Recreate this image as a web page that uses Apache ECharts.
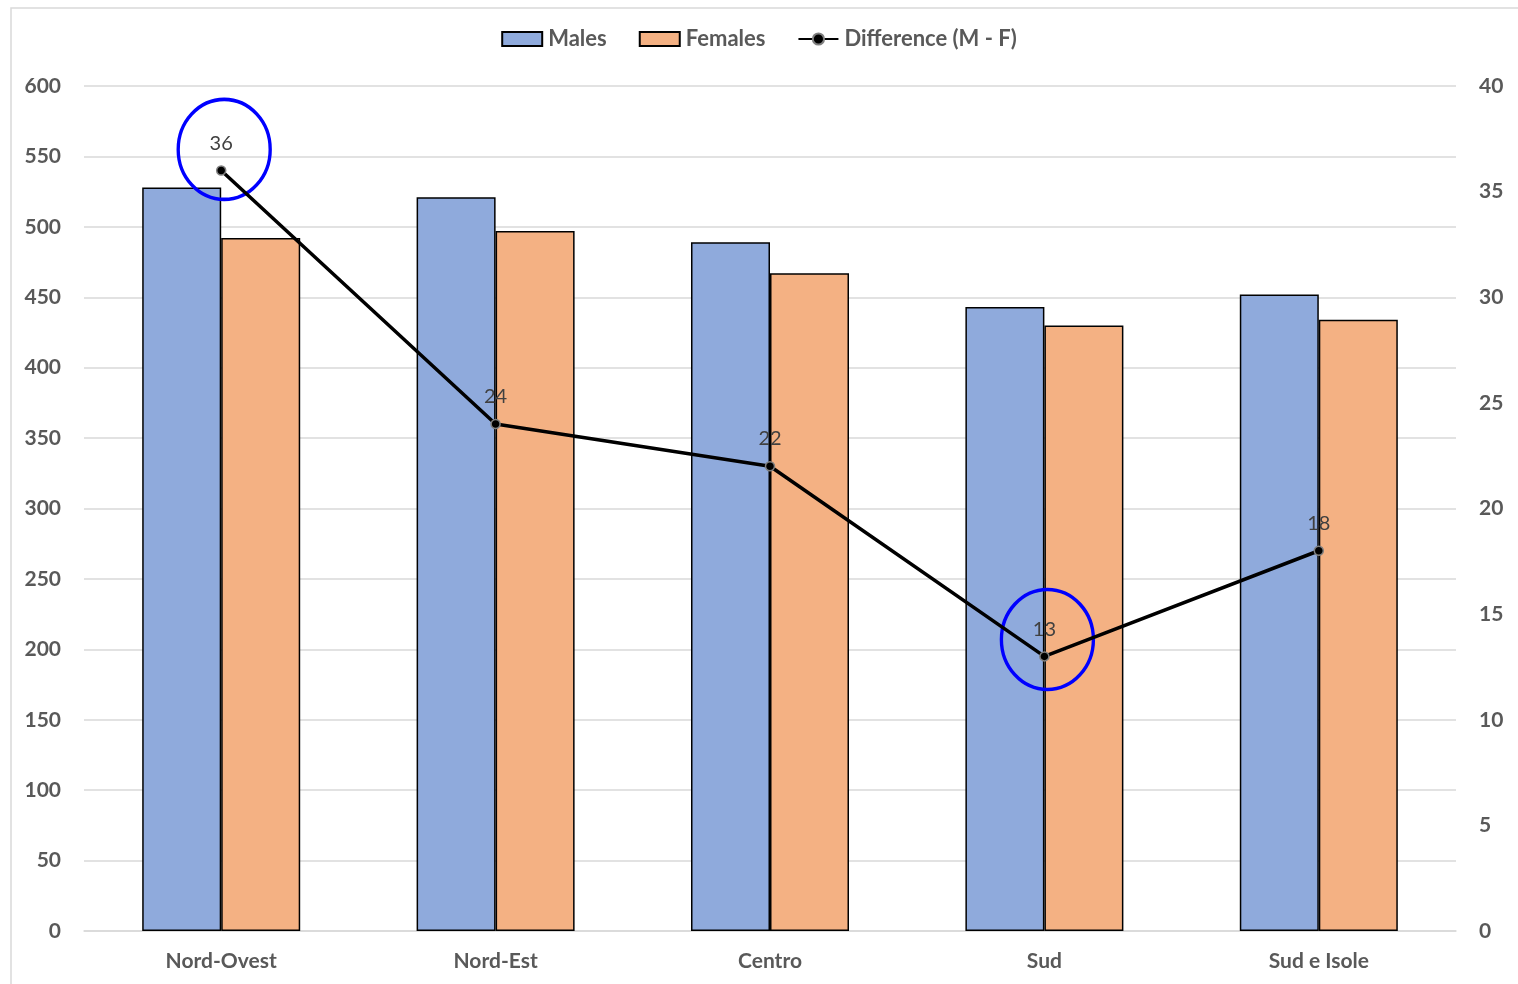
<!DOCTYPE html>
<html>
<head>
<meta charset="utf-8">
<script src="https://cdn.jsdelivr.net/npm/echarts@6/dist/echarts.min.js"></script>
<style>
  html, body { margin: 0; padding: 0; background: #ffffff; }
  #chart { width: 1518px; height: 984px; }
</style>
</head>
<body>
<div id="chart"></div>
<script>
// Regions (categories)
const regions = ['Nord-Ovest', 'Nord-Est', 'Centro', 'Sud', 'Sud e Isole'];
// Values per sex
const males = [528, 521, 489, 443, 452];
const females = [492, 497, 467, 430, 434];
// Male minus female gap
const difference = [36, 24, 22, 13, 18];
// Highlighted points on the difference line: [region, value on right axis]
const highlights = [['Nord-Ovest', 37], ['Sud', 13.8]];

const FONT = 'Lato, "Open Sans", sans-serif';
const GRAY = '#595959';

const chart = echarts.init(document.getElementById('chart'));
chart.setOption({
  animation: false,
  backgroundColor: '#ffffff',
  graphic: [{
    type: 'rect',
    shape: { x: 11, y: 8, width: 1520, height: 990 },
    style: { fill: 'none', stroke: '#d9d9d9', lineWidth: 1.5 },
    silent: true,
    z: -1
  }],
  legend: {
    top: 23,
    left: 'center',
    itemWidth: 40,
    itemHeight: 14,
    itemGap: 32,
    textStyle: { fontFamily: FONT, fontSize: 22, color: GRAY, fontWeight: 'bold', padding: [0, 0, 0, 1] },
    data: [
      { name: 'Males', icon: 'rect' },
      { name: 'Females', icon: 'rect' },
      { name: 'Difference (M - F)' }
    ]
  },
  grid: { left: 84, right: 62, top: 86, bottom: 53, containLabel: false },
  xAxis: {
    type: 'category',
    data: regions,
    axisTick: { show: false },
    axisLine: { lineStyle: { color: '#d9d9d9', width: 1.5 } },
    axisLabel: { fontFamily: FONT, fontSize: 21, color: GRAY, fontWeight: 'bold', margin: 20 }
  },
  yAxis: [{
    type: 'value',
    min: 0, max: 600, interval: 50,
    axisLine: { show: false },
    axisTick: { show: false },
    splitLine: { lineStyle: { color: '#d9d9d9', width: 1.5 } },
    axisLabel: { fontFamily: FONT, fontSize: 21, color: GRAY, fontWeight: 'bold', margin: 23 }
  }, {
    type: 'value',
    min: 0, max: 40, interval: 5,
    axisLine: { show: false },
    axisTick: { show: false },
    splitLine: { show: false },
    axisLabel: { fontFamily: FONT, fontSize: 21, color: GRAY, fontWeight: 'bold', margin: 23 }
  }],
  series: [{
    name: 'Males',
    type: 'bar',
    data: males,
    barWidth: 79,
    barGap: '0%',
    itemStyle: { color: '#8faadc', borderColor: '#000000', borderWidth: 1.5 }
  }, {
    name: 'Females',
    type: 'bar',
    data: females,
    barWidth: 79,
    barGap: '0%',
    itemStyle: { color: '#f4b183', borderColor: '#000000', borderWidth: 1.5 }
  }, {
    name: 'Difference (M - F)',
    type: 'line',
    yAxisIndex: 1,
    data: difference,
    symbol: 'circle',
    symbolSize: 9,
    lineStyle: { color: '#000000', width: 3.5 },
    itemStyle: { color: '#000000', borderColor: '#7f7f7f', borderWidth: 1.5 },
    label: {
      show: true,
      position: 'top',
      distance: 12,
      fontFamily: FONT,
      fontSize: 20,
      color: '#404040'
    },
    markPoint: {
      symbol: 'circle',
      symbolSize: [92, 100],
      symbolOffset: [3, 0],
      silent: true,
      label: { show: false },
      itemStyle: { color: 'rgba(0,0,0,0)', borderColor: '#0000ff', borderWidth: 3.5 },
      data: highlights.map(h => ({ coord: h }))
    },
    z: 5
  }]
});
</script>
</body>
</html>
